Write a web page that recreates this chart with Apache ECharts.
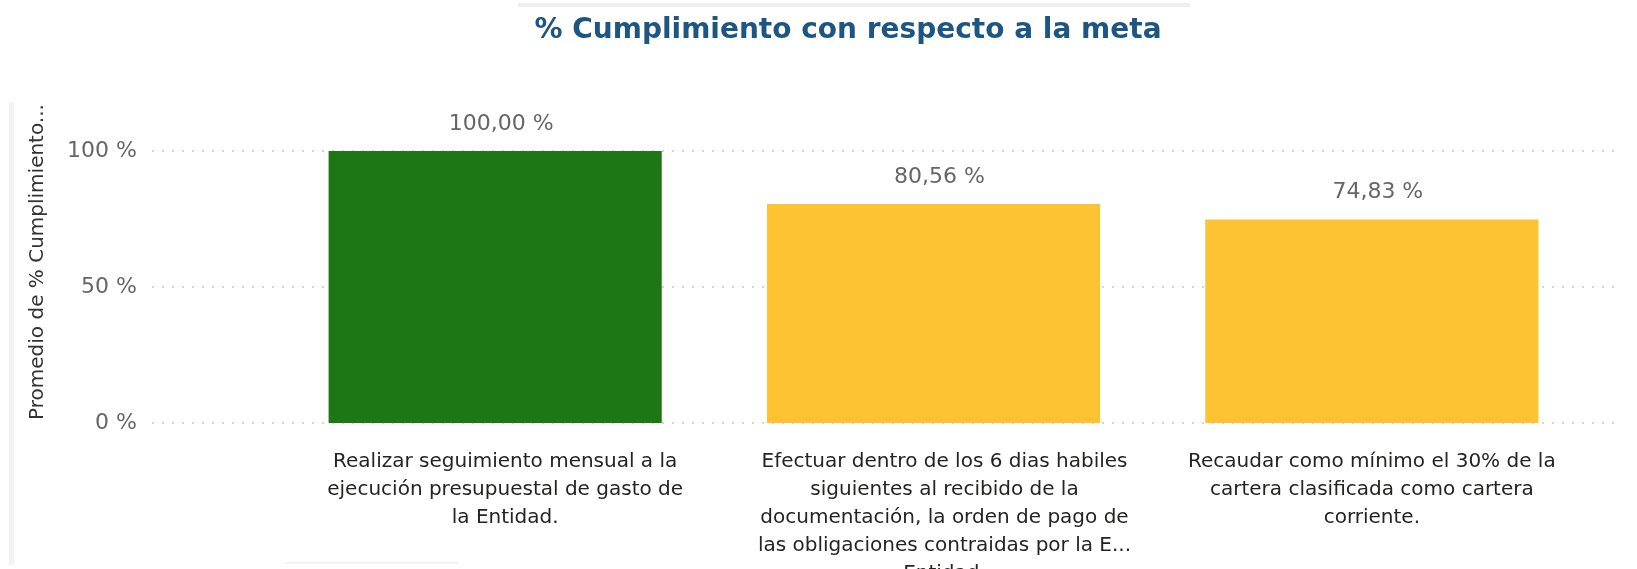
<!DOCTYPE html>
<html>
<head>
<meta charset="utf-8">
<script src="https://cdn.jsdelivr.net/npm/echarts@6/dist/echarts.min.js"></script>
<style>
  html, body { margin: 0; padding: 0; background: #fff; }
  #chart { width: 1637px; height: 569px; }
</style>
</head>
<body>
<div id="chart"></div>
<script>
// Goals (category labels, wrapped as shown under each bar)
const categories = [
  'Realizar seguimiento mensual a la\nejecución presupuestal de gasto de\nla Entidad.',
  'Efectuar dentro de los 6 dias habiles\nsiguientes al recibido de la\ndocumentación, la orden de pago de\nlas obligaciones contraidas por la E...\nEntidad.',
  'Recaudar como mínimo el 30% de la\ncartera clasificada como cartera\ncorriente.'
];
// Average compliance percentage per goal
const values = [100.00, 80.56, 74.83];
const barColors = ['#1D7714', '#FDC332', '#FDC332'];
const yTicks = [0, 50, 100];

const chart = echarts.init(document.getElementById('chart'), null, { renderer: 'canvas' });

const fmtPct = v => v.toFixed(2).replace('.', ',') + ' %';

// category label text style; the first two labels sit slightly right of their bars
const catText = {
  fontFamily: 'DejaVu Sans',
  fontSize: 20,
  lineHeight: 28,
  color: '#252423',
  align: 'center'
};

const option = {
  backgroundColor: '#ffffff',
  animation: false,
  title: {
    text: '% Cumplimiento con respecto a la meta',
    left: 843,
    top: 12,
    textAlign: 'center',
    textStyle: {
      fontFamily: 'DejaVu Sans',
      fontWeight: 'bold',
      fontSize: 28,
      color: '#1E5683'
    }
  },
  grid: [
    // plot frame carrying the value axis and dotted gridlines
    { left: 152, right: 19, top: 151, bottom: 146, outerBoundsMode: 'none', containLabel: false },
    // inner band where the bars sit
    { left: 276, right: 46, top: 151, bottom: 146, outerBoundsMode: 'none', containLabel: false }
  ],
  xAxis: [
    {
      gridIndex: 0, type: 'category', data: categories,
      show: false
    },
    {
      gridIndex: 1, type: 'category', data: categories,
      axisLine: { show: false },
      axisTick: { show: false },
      axisLabel: {
        interval: 0,
        margin: 25,
        fontFamily: 'DejaVu Sans',
        fontSize: 20,
        lineHeight: 28,
        color: '#252423',
        align: 'center',
        formatter: (v, i) => {
          const key = i === 2 ? 'c2' : 'c' + i;
          return v.split('\n').map(l => '{' + key + '|' + l + '}').join('\n');
        },
        rich: {
          c0: Object.assign({ padding: [0, 0, 0, 20] }, catText),
          c1: Object.assign({ padding: [0, 0, 0, 22] }, catText),
          c2: Object.assign({}, catText)
        }
      }
    }
  ],
  yAxis: [
    {
      gridIndex: 0, type: 'value', min: yTicks[0], max: yTicks[yTicks.length - 1], interval: 50,
      axisLine: { show: false },
      axisTick: { show: false },
      axisLabel: {
        margin: 15,
        fontFamily: 'DejaVu Sans',
        fontSize: 22,
        color: '#666666',
        formatter: v => v + ' %'
      },
      splitLine: {
        show: true,
        lineStyle: { color: '#C8C8C8', width: 1.5, type: [2, 8] }
      }
    },
    {
      gridIndex: 1, type: 'value', min: yTicks[0], max: yTicks[yTicks.length - 1], interval: 50,
      show: false,
      splitLine: { show: false }
    }
  ],
  series: [
    {
      type: 'bar',
      xAxisIndex: 1,
      yAxisIndex: 1,
      barCategoryGap: '24%',
      data: values.map((v, i) => ({ value: v, itemStyle: { color: barColors[i] } })),
      label: {
        show: true,
        position: 'top',
        distance: 16,
        offset: [6, 0],
        fontFamily: 'DejaVu Sans',
        fontSize: 22,
        color: '#666666',
        formatter: p => fmtPct(p.value)
      }
    }
  ],
  graphic: [
    // rotated value-axis title
    {
      type: 'text',
      x: 38, y: 262,
      rotation: Math.PI / 2,
      style: {
        text: 'Promedio de % Cumplimiento...',
        fontFamily: 'DejaVu Sans',
        fontSize: 20,
        fill: '#333333',
        align: 'center',
        verticalAlign: 'middle'
      }
    },
    // light frame edges
    { type: 'rect', shape: { x: 9, y: 102, width: 5, height: 463 }, style: { fill: '#F3F3F3' } },
    { type: 'rect', shape: { x: 518, y: 3, width: 672, height: 4 }, style: { fill: '#EEEEEE' } },
    { type: 'rect', shape: { x: 285, y: 562, width: 173, height: 2 }, style: { fill: '#F4F4F4' } }
  ]
};

chart.setOption(option);
</script>
</body>
</html>
